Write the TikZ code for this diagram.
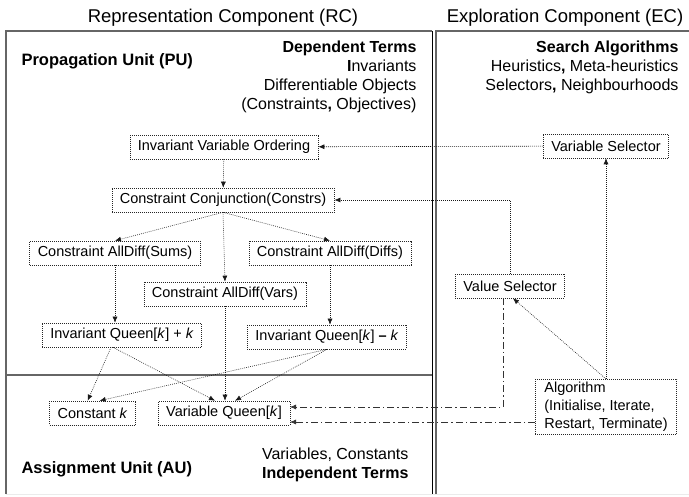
\documentclass[tikz,border=0pt]{standalone}
\usepackage{fontspec}
\setmainfont{Liberation Sans}
\usetikzlibrary{positioning, arrows.meta, calc}

\begin{document}
\begin{tikzpicture}[
    x=1pt, y=-1pt,
    box/.style={draw=black!85, line width=0.6pt, dash pattern=on 0.8pt off 1.2pt, inner xsep=8pt, inner ysep=3pt, minimum height=24pt, font=\fontsize{14.5}{18}\selectfont},
    arr/.style={-{Latex[length=6pt, width=5pt]}, line width=0.6pt, dash pattern=on 0.8pt off 1.2pt, black!90},
    dasharr/.style={-{Latex[length=6pt, width=5pt]}, line width=0.6pt, dash pattern=on 7pt off 3pt on 1.5pt off 3pt, black!80},
    frame/.style={draw=black!60, line width=1.6pt},
    title/.style={font=\fontsize{18.5}{20}\selectfont},
    unit/.style={font=\bfseries\fontsize{16.5}{20}\selectfont, anchor=west},
    terms/.style={font=\fontsize{16}{19}\selectfont, align=right, anchor=east}
]
    \useasboundingbox (0,0) rectangle (689,497);

    % frames of the two components
    \draw[frame] (6,494) -- (6,31) -- (432,31);
    \draw[frame] (6,375) -- (432,375);
    \draw[frame] (436,494) -- (436,31) -- (689,31);
    \draw[black, line width=1pt] (432,31) -- (432,494);
    \draw[black!8, line width=1pt] (6,494.5) -- (689,494.5);

    \node[title] (rc) at (223,18) {Representation Component (RC)};
    \node[title] (ec) at (565,18) {Exploration Component (EC)};

    \node[unit] (pu) at (18,61) {Propagation Unit (PU)};
    \node[terms] (dep) at (420,77) {\textbf{Dependent Terms}\\\textbf{I}nvariants\\Differentiable Objects\\(Constraints\textbf{,} Objectives)};
    \node[terms] (search) at (682,67) {\textbf{Search Algorithms}\\Heuristics\textbf{,} Meta-heuristics\\Selectors\textbf{,} Neighbourhoods};
    \node[unit] (au) at (18,469) {Assignment Unit (AU)};
    \node[terms] (indep) at (412,465) {Variables, Constants\\\textbf{Independent Terms}};

    % propagation unit
    \node[box] (ivo) at (224,147) {Invariant Variable Ordering};
    \node[box] (conj) at (223,200) {Constraint Conjunction(Constrs)};
    \node[box] (sums) at (115,253) {Constraint AllDiff(Sums)};
    \node[box] (diffs) at (330,253) {Constraint AllDiff(Diffs)};
    \node[box] (vars) at (225,294) {Constraint AllDiff(Vars)};
    \node[box] (qplus) at (122,335) {Invariant Queen[\textit{k}] + \textit{k}};
    \node[box] (qminus) at (327,337) {Invariant Queen[\textit{k}] \textbf{--} \textit{k}};

    % assignment unit
    \node[box] (queen) at (224,413) {Variable Queen[\textit{k}]};
    \node[box] (const) [left=22pt of queen] {Constant \textit{k}};

    % exploration component
    \node[box] (varsel) at (606,146) {Variable Selector};
    \node[box] (valsel) at (510,286) {Value Selector};
    \node[box, align=left, inner xsep=9pt] (algo) at (606,407) {Algorithm\\(Initialise, Iterate,\\Restart, Terminate)};

    \coordinate (qtop) at ([yshift=6pt]queen.east);
    \coordinate (qbot) at ([yshift=-9pt]queen.east);

    \draw[arr] (varsel) -- (ivo);
    \draw[arr] (ivo) -- (conj);
    \draw[arr] (conj.south) -- (sums.north);
    \draw[arr] (conj.south) -- (diffs.north);
    \draw[arr] (conj.south) -- (vars.north);
    \draw[arr] (sums.south) -- (sums.south |- qplus.north);
    \draw[arr] (diffs.south) -- (diffs.south |- qminus.north);
    \draw[arr] ([xshift=-11pt]qplus.south) -- ([xshift=-5pt]const.north);
    \draw[arr] ([xshift=-9pt]qplus.south) -- ([xshift=-9pt]queen.north);
    \draw[arr] (qminus.south) -- ([xshift=7pt]const.north);
    \draw[arr] (qminus.south) -- ([xshift=11pt]queen.north);
    \draw[arr] (vars.south) -- (vars.south |- queen.north);
    \draw[arr] (valsel.north) |- (conj.east);
    \draw[arr] (algo.north) -- (algo.north |- varsel.south);
    \draw[arr] (algo.north) -- ([xshift=3pt]valsel.south);
    \draw[dasharr] ([xshift=-7pt]valsel.south) |- (qtop);
    \draw[dasharr] (algo.west |- qbot) -- (qbot);
\end{tikzpicture}
\end{document}
